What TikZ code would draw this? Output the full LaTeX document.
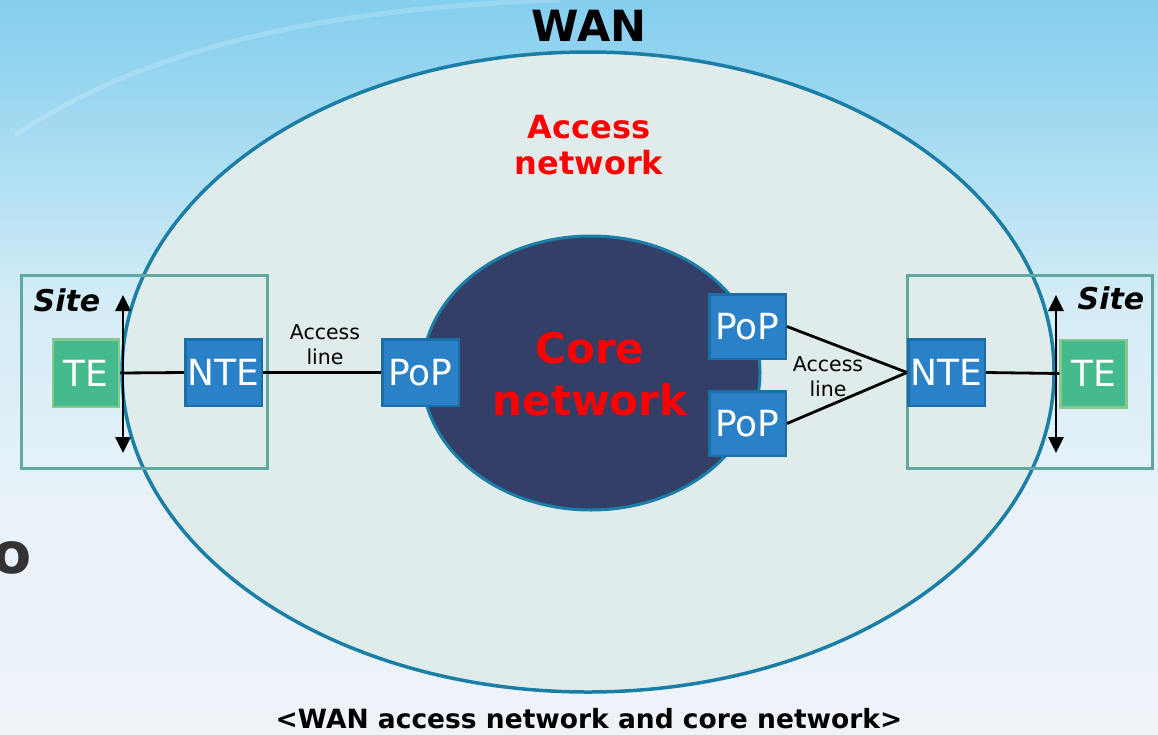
\documentclass[tikz,border=0pt]{standalone}
\usepackage{fontspec}
\setmainfont{DejaVu Sans}
\usetikzlibrary{arrows.meta,shapes.geometric}
\definecolor{cSkyTop}{HTML}{84CEEE}
\definecolor{cSkyUp}{HTML}{A8DCF2}
\definecolor{cSkyMid}{HTML}{D4ECF7}
\definecolor{cSkyLow}{HTML}{E8F2F8}
\definecolor{cSkyBot}{HTML}{EEF3F8}
\definecolor{cAcc}{HTML}{E0ECEB}
\definecolor{cRim}{HTML}{1B7EA6}
\definecolor{cCore}{HTML}{343F68}
\definecolor{cSite}{HTML}{62A8A2}
\definecolor{cBlue}{HTML}{2A81C7}
\definecolor{cBlueD}{HTML}{1C6FA6}
\definecolor{cGrn}{HTML}{45BA8C}
\definecolor{cGrnL}{HTML}{86C98E}
\definecolor{cRed}{HTML}{FF0000}
\pgfdeclareverticalshading{sky}{100bp}{color(0bp)=(cSkyBot); color(25bp)=(cSkyBot); color(41bp)=(cSkyLow); color(54.5bp)=(cSkyMid); color(65bp)=(cSkyUp); color(75bp)=(cSkyTop); color(100bp)=(cSkyTop)}
\tikzset{
  dev/.style={draw=cBlueD, line width=2.5pt, fill=cBlue, text=white, minimum width=76.5pt, minimum height=66.5pt, inner sep=0pt, font=\fontsize{36}{40}\selectfont},
  term/.style={dev, draw=cGrnL, fill=cGrn, minimum width=66pt, minimum height=67.5pt},
  sitebox/.style={draw=cSite, line width=3pt, inner sep=0pt},
  sitelbl/.style={font=\fontsize{30}{34}\selectfont\bfseries\itshape, inner sep=0pt},
  lbl/.style={font=\fontsize{20.5}{25}\selectfont, align=center, inner sep=0pt},
  link/.style={line width=2.8pt, draw=black},
  dbl/.style={{Triangle[length=16pt,width=15pt]}-{Triangle[length=16pt,width=15pt]}, line width=2.8pt},
  redlbl/.style={text=cRed, align=center, inner sep=0pt},
}
\begin{document}
\begin{tikzpicture}[x=1pt,y=1pt]
\useasboundingbox (0,0) rectangle (1158,-734);
% ---------------- background
\shade[shading=sky] (0,0) rectangle (1158,-734);
\draw[white, opacity=.18, line width=5pt] (15,-135) .. controls (150,-45) and (330,-8) .. (560,0);
\node[font=\fontsize{57}{60}\selectfont\bfseries, text=black!80, inner sep=0pt, anchor=base] (stray) at (12.5,-573) {o};

% ---------------- WAN / access network
\node[ellipse, draw=cRim, line width=3.5pt, fill=cAcc, minimum width=932pt, minimum height=640pt] (acc) at (588,-372) {};
\node[font=\fontsize{43}{46}\selectfont\bfseries, inner sep=0pt] (wan) at (589,-26) {WAN};
\node[redlbl, font=\fontsize{32}{36}\selectfont\bfseries] (acclbl) at (589,-145) {Access\\network};

% ---------------- sites
\node[sitebox, minimum width=246pt, minimum height=193pt] (site1) at (144,-371.5) {};
\node[sitebox, minimum width=245pt, minimum height=193pt] (site2) at (1029.5,-371.5) {};
\node[sitelbl] (s1lbl) at (67,-300) {Site};
\node[sitelbl] (s2lbl) at (1111,-298) {Site};

% ---------------- core network
\node[ellipse, draw=cRim, line width=3pt, fill=cCore, minimum width=338pt, minimum height=274pt] (core) at (591,-373) {};
\node[redlbl, font=\fontsize{42}{52}\selectfont\bfseries] (corelbl) at (590,-374) {Core\\network};

% ---------------- devices
\node[term] (te1) at (86,-373) {TE};
\node[dev] (nte1) at (223.5,-372.5) {NTE};
\node[dev] (pop1) at (420.5,-372.5) {PoP};
\node[dev, minimum height=64.5pt] (pop2) at (747.5,-326.5) {PoP};
\node[dev, minimum height=64.5pt] (pop3) at (747.5,-423.5) {PoP};
\node[dev] (nte2) at (946.5,-372.5) {NTE};
\node[term] (te2) at (1093.5,-373.5) {TE};

% ---------------- links
\draw[link] (te1.east) -- (nte1.west);
\draw[link] (nte1.east) -- (pop1.west);
\draw[link] (pop2.east) -- (nte2.west);
\draw[link] (pop3.east) -- (nte2.west);
\draw[link] (nte2.east) -- (te2.west);
\node[lbl] (al1) at (325,-345) {Access\\line};
\node[lbl] (al2) at (828,-377) {Access\\line};

% ---------------- interface arrows
\coordinate (u1) at (123,-295); \coordinate (d1) at (123,-453);
\coordinate (u2) at (1056,-295); \coordinate (d2) at (1056,-453);
\draw[dbl] (u1) -- (d1);
\draw[dbl] (u2) -- (d2);

% ---------------- caption
\node[font=\fontsize{26.5}{30}\selectfont\bfseries, inner sep=0pt] (cap) at (589,-719) {<WAN access network and core network>};
\end{tikzpicture}
\end{document}
